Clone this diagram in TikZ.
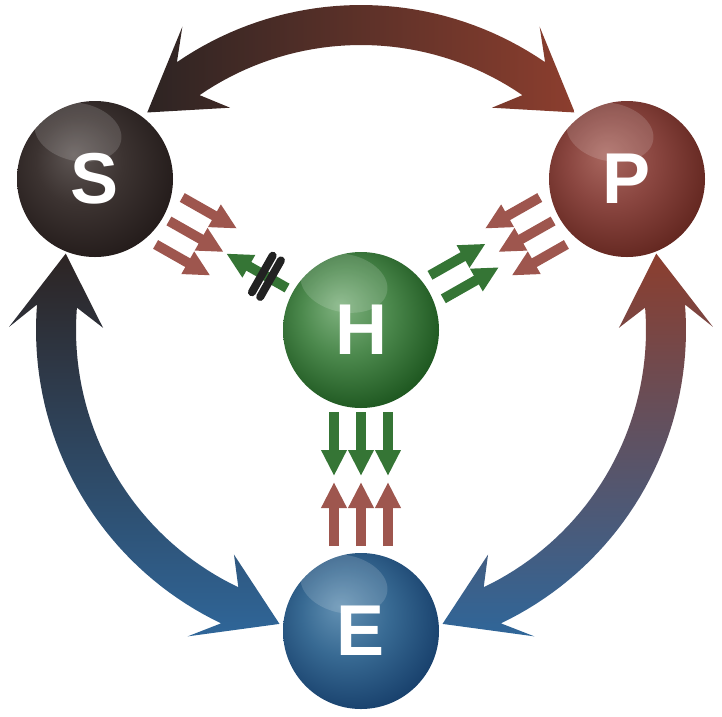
\documentclass[tikz,border=0pt]{standalone}
\usepackage{fontspec}
\setsansfont{Liberation Sans}
\usetikzlibrary{arrows.meta,calc}

% ball colours
\definecolor{shi}{HTML}{5E5654}
\definecolor{smid}{HTML}{3C3331}
\definecolor{slo}{HTML}{231B1A}
\definecolor{phi}{HTML}{A9675F}
\definecolor{pmid}{HTML}{8A4640}
\definecolor{plo}{HTML}{62261F}
\definecolor{hhi}{HTML}{7FB27F}
\definecolor{hmid}{HTML}{4C894D}
\definecolor{hlo}{HTML}{1C551E}
\definecolor{ehi}{HTML}{6391B3}
\definecolor{emid}{HTML}{386A93}
\definecolor{elo}{HTML}{173F6B}
% arrow colours
\definecolor{cycdark}{HTML}{2D2423}
\definecolor{cycred}{HTML}{8C3E2E}
\definecolor{cycblue}{HTML}{2F6699}
\definecolor{arrred}{HTML}{9E564E}
\definecolor{arrgreen}{HTML}{357535}
\definecolor{barblack}{HTML}{222222}

\colorlet{ballhi}{shi}
\colorlet{ballmid}{smid}
\colorlet{balllo}{slo}
\pgfdeclareradialshading[ballhi,ballmid,balllo]{glossy}{\pgfpoint{-7bp}{8bp}}{%
  color(0bp)=(ballhi); color(14bp)=(ballmid); color(30bp)=(balllo); color(50bp)=(balllo)}

% curved double arrow round the hub, tips at angles #1 and #2
\newcommand{\cyclearrow}[2]{%
  (#1:305) -- ({#1+14}:352) -- ({#1+10}:325)
  -- plot[domain=#1+10:#2-10, samples=40] (\x:325)
  -- ({#2-10}:325) -- ({#2-14}:352) -- (#2:305) -- ({#2-14}:258) -- ({#2-10}:285)
  -- plot[domain=#2-10:#1+10, samples=40] (\x:285)
  -- ({#1+10}:285) -- ({#1+14}:258) -- cycle}

\tikzset{
  ball/.style={circle, minimum size=156pt, inner sep=0pt, shade, shading=glossy,
    text=white, font=\sffamily\bfseries\fontsize{72}{72}\selectfont},
  gloss/.style={fill=white, fill opacity=0.15},
  redarr/.style={-{Triangle[length=26pt, width=24pt]}, line width=10pt, draw=arrred},
  greenarr/.style={-{Triangle[length=26pt, width=24pt]}, line width=10pt, draw=arrgreen},
  blocker/.style={line width=8pt, line cap=round, draw=barblack}
}

\begin{document}
\begin{tikzpicture}[x=1pt, y=-1pt]
  \useasboundingbox (0,0) rectangle (722,716);

  % ── the four balls ──────────────────────────────────────
  \colorlet{ballhi}{shi}\colorlet{ballmid}{smid}\colorlet{balllo}{slo}
  \node[ball] (S) at (95,179) {S};
  \colorlet{ballhi}{phi}\colorlet{ballmid}{pmid}\colorlet{balllo}{plo}
  \node[ball] (P) at (627,179) {P};
  \colorlet{ballhi}{hhi}\colorlet{ballmid}{hmid}\colorlet{balllo}{hlo}
  \node[ball] (H) at (361,330) {H};
  \colorlet{ballhi}{ehi}\colorlet{ballmid}{emid}\colorlet{balllo}{elo}
  \node[ball] (E) at (361,631) {E};

  % glossy highlights
  \foreach \b in {S,P,H,E} {
    \fill[gloss] ($(\b)+(-17,-47)$) ellipse[x radius=44pt, y radius=29pt, rotate=-12];
  }

  % ── big curved arrows round H ───────────────────────────
  \begin{scope}[shift={(H.center)}]
    \shade[left color=cycdark, right color=cycred] \cyclearrow{225.5}{314.5};
    \shade[top color=cycdark, bottom color=cycblue] \cyclearrow{105.5}{194.5};
    \shade[top color=cycred, bottom color=cycblue] \cyclearrow{-14.5}{74.5};
  \end{scope}

  % ── small arrows into H ─────────────────────────────────
  \foreach \o in {-27pt,0pt,27pt} {
    \draw[redarr] ($(S)!85pt!(H)!\o!90:(H)$) -- ($(S)!148pt!(H)!\o!90:(H)$);
    \draw[redarr] ($(P)!85pt!(H)!\o!90:(H)$) -- ($(P)!148pt!(H)!\o!90:(H)$);
    \draw[redarr] ($(E)!85pt!(H)!\o!90:(H)$) -- ($(E)!149pt!(H)!\o!90:(H)$);
    \draw[greenarr] ($(H)!82pt!(E)!\o!90:(E)$) -- ($(H)!146pt!(E)!\o!90:(E)$);
  }
  \foreach \o in {-13.5pt,13.5pt} {
    \draw[greenarr] ($(H)!87pt!(P)!\o!90:(P)$) -- ($(H)!151pt!(P)!\o!90:(P)$);
  }

  % blocked arrow H -> S
  \draw[greenarr] ($(H)!85pt!(S)$) -- ($(H)!155pt!(S)$);
  \draw[blocker] ($(H)!104pt!(S)!21pt!90:(S)$) -- ($(H)!104pt!(S)!-21pt!90:(S)$);
  \draw[blocker] ($(H)!113.5pt!(S)!21pt!90:(S)$) -- ($(H)!113.5pt!(S)!-21pt!90:(S)$);

\end{tikzpicture}
\end{document}
